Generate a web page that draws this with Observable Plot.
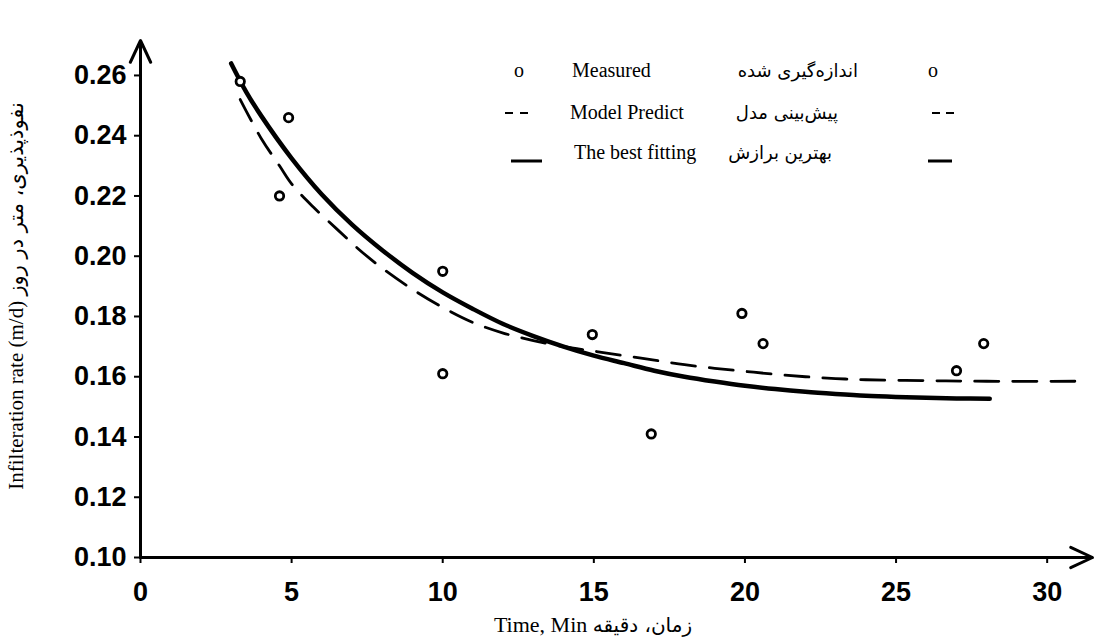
<!DOCTYPE html>
<html>
<head>
<meta charset="utf-8">
<script src="https://cdn.jsdelivr.net/npm/d3@7"></script>
<script src="https://cdn.jsdelivr.net/npm/@observablehq/plot@0.6"></script>
<style>
  html, body { margin: 0; padding: 0; background: #fff; }
  #chart { position: relative; width: 1096px; height: 640px; }
  g[aria-label="x-axis tick label"] text,
  g[aria-label="y-axis tick label"] text {
    font-family: "Liberation Sans", Arial, sans-serif;
    font-weight: bold;
    font-size: 27px;
    fill: #000;
  }
</style>
</head>
<body>
<div id="chart"></div>
<script>
// ---- data ----
const measuredTime = [3.3, 4.6, 4.9, 10.0, 10.0, 14.95, 16.9, 19.9, 20.6, 27.0, 27.9];
const measuredRate = [0.258, 0.220, 0.246, 0.195, 0.161, 0.174, 0.141, 0.181, 0.171, 0.162, 0.171];

const bestTime = [3.0, 3.5, 4, 5, 6, 7, 8, 9, 10, 11, 12, 13, 14, 15, 16, 17, 18, 19, 20, 21, 22, 23, 24, 25, 26, 27, 28.1];
const bestRate = [0.264, 0.2545, 0.2465, 0.2325, 0.2205, 0.2105, 0.202, 0.1945, 0.188, 0.1825, 0.1775, 0.1735, 0.170, 0.167, 0.1645, 0.162, 0.160, 0.1584, 0.157, 0.1559, 0.155, 0.1543, 0.1537, 0.1533, 0.153, 0.1528, 0.1527];

const modelTime = [3.3, 4, 4.6, 5, 5.7, 6.5, 7.2, 8, 9, 10, 11, 12, 13, 14, 15, 16, 17, 18, 19, 20, 21, 22, 23, 24, 26, 28, 31.3];
const modelRate = [0.252, 0.239, 0.230, 0.224, 0.2165, 0.209, 0.2025, 0.196, 0.189, 0.183, 0.178, 0.1745, 0.172, 0.170, 0.1685, 0.167, 0.1655, 0.164, 0.1628, 0.1618, 0.1608, 0.160, 0.1594, 0.159, 0.1587, 0.1585, 0.1585];

const xTicks = [0, 5, 10, 15, 20, 25, 30];
const yTicks = [0.10, 0.12, 0.14, 0.16, 0.18, 0.20, 0.22, 0.24, 0.26];
const xDomain = [0, 31.5];
const yDomain = [0.10, 0.2716];

const xLabelEn = "Time, Min";
const xLabelFa = "زمان، دقیقه";
const yLabelEn = "Infilteration rate (m/d)";
const yLabelFa = "نفوذپذیری، متر در روز";
const legendEnglish = ["Measured", "Model Predict", "The best fitting"];
const legendPersian = ["اندازه‌گیری شده", "پیش‌بینی مدل", "بهترین برازش"];

// ---- tables built from the arrays ----
const measured = measuredTime.map((t, i) => ({t, r: measuredRate[i]}));
const best = bestTime.map((t, i) => ({t, r: bestRate[i]}));
const model = modelTime.map((t, i) => ({t, r: modelRate[i]}));
const axes = [
  {x1: xDomain[0], y1: yDomain[0], x2: xDomain[0], y2: yDomain[1]},
  {x1: xDomain[0], y1: yDomain[0], x2: xDomain[1], y2: yDomain[0]}
];

const chart = Plot.plot({
  width: 1096,
  height: 640,
  marginLeft: 140,
  marginRight: 4,
  marginTop: 40,
  marginBottom: 83,
  style: {background: "#fff", color: "#000"},
  x: {domain: xDomain},
  y: {domain: yDomain},
  marks: [
    Plot.axisX({ticks: xTicks, tickSize: 6, tickPadding: 18, label: null, strokeWidth: 2}),
    Plot.axisY({ticks: yTicks, tickSize: 6, tickPadding: 8, label: null, strokeWidth: 2, tickFormat: d3.format(".2f")}),
    Plot.arrow(axes, {x1: "x1", y1: "y1", x2: "x2", y2: "y2", stroke: "#000", strokeWidth: 3, headLength: 12, headAngle: 50}),
    Plot.line(model, {x: "t", y: "r", stroke: "#000", strokeWidth: 2.8, strokeDasharray: "24,14", curve: "catmull-rom"}),
    Plot.line(best, {x: "t", y: "r", stroke: "#000", strokeWidth: 4.5, curve: "catmull-rom"}),
    Plot.dot(measured, {x: "t", y: "r", r: 4.2, stroke: "#000", strokeWidth: 2.8, fill: "#fff"})
  ]
});
document.getElementById("chart").appendChild(chart);

// ---- axis titles and legend (drawn on the same svg) ----
const svg = d3.select(chart);
const serif = "'Liberation Serif', 'DejaVu Serif', serif";
const arab = "'DejaVu Sans', sans-serif";

const xt = svg.append("text")
  .attr("x", 593).attr("y", 632)
  .attr("text-anchor", "middle")
  .attr("font-family", serif).attr("font-size", 22);
xt.append("tspan").text(xLabelEn + " ");
xt.append("tspan").attr("font-family", arab).attr("font-size", 20).text(xLabelFa);

const yt = svg.append("text")
  .attr("transform", "translate(23,296) rotate(-90)")
  .attr("text-anchor", "middle")
  .attr("font-family", serif).attr("font-size", 21);
yt.append("tspan").text(yLabelEn + " ");
yt.append("tspan").attr("font-family", arab).attr("font-size", 21).text(yLabelFa);

const leg = svg.append("g").attr("fill", "#000");
const rowY = [77, 119, 159];
// row markers, left and right
leg.append("text").attr("x", 519).attr("y", rowY[0]).attr("text-anchor", "middle")
  .attr("font-family", serif).attr("font-size", 20).text("o");
leg.append("text").attr("x", 933).attr("y", rowY[0]).attr("text-anchor", "middle")
  .attr("font-family", serif).attr("font-size", 20).text("o");
[[505, 513], [520, 528], [932, 940], [946, 954]].forEach(([a, b]) =>
  leg.append("line").attr("x1", a).attr("x2", b).attr("y1", rowY[1] - 6).attr("y2", rowY[1] - 6)
    .attr("stroke", "#000").attr("stroke-width", 2));
[[511, 542], [928, 952]].forEach(([a, b]) =>
  leg.append("line").attr("x1", a).attr("x2", b).attr("y1", rowY[2] + 2).attr("y2", rowY[2] + 2)
    .attr("stroke", "#000").attr("stroke-width", 3));
// english labels
const enX = [572, 570, 574];
legendEnglish.forEach((s, i) =>
  leg.append("text").attr("x", enX[i]).attr("y", rowY[i]).attr("text-anchor", "start")
    .attr("font-family", serif).attr("font-size", 20).text(s));
// persian labels
const faX = [858, 838, 832];
legendPersian.forEach((s, i) =>
  leg.append("text").attr("x", faX[i]).attr("y", rowY[i]).attr("text-anchor", "end")
    .attr("font-family", arab).attr("font-size", 18).text(s));
</script>
</body>
</html>
